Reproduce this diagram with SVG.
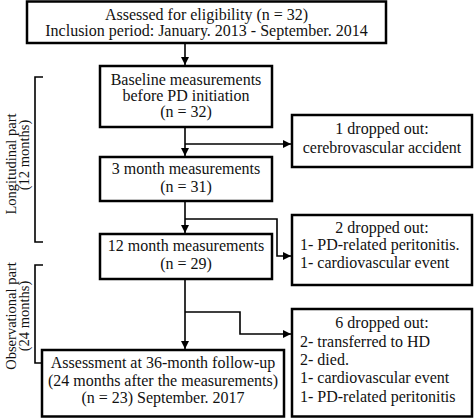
<svg xmlns="http://www.w3.org/2000/svg" width="474" height="418" viewBox="0 0 474 418">
<style>
.box{fill:#fff;stroke:#000;stroke-width:2.5}
.t{font-family:"Liberation Serif","Times New Roman",serif;font-size:16px;fill:#111}
.r{font-size:14.5px}
.c{text-anchor:middle}
.ln{fill:none;stroke:#000;stroke-width:1.6}
</style>
<defs>
<marker id="ah" viewBox="0 0 10 10" refX="10" refY="5" markerWidth="9" markerHeight="8" markerUnits="userSpaceOnUse" orient="auto">
<path d="M0,0 L10,5 L0,10 Z" fill="#000"/>
</marker>
</defs>
<rect width="474" height="418" fill="#fff"/>
<g id="connectors">
<path class="ln" d="M185,43 V65" marker-end="url(#ah)"/>
<path class="ln" d="M185,127 V156" marker-end="url(#ah)"/>
<path class="ln" d="M185,144 H291" marker-end="url(#ah)"/>
<path class="ln" d="M185,201 V233" marker-end="url(#ah)"/>
<path class="ln" d="M185,219 H277 V256 H291" marker-end="url(#ah)"/>
<path class="ln" d="M185,279 V349" marker-end="url(#ah)"/>
<path class="ln" d="M185,312 H240 V334 H291" marker-end="url(#ah)"/>
</g>
<g id="bracket-longitudinal">
<path class="ln" d="M43,77 H35 V242 H43"/>
<text class="t r c" transform="translate(16,164) rotate(-90)">Longitudinal part</text>
<text class="t r c" transform="translate(29,155) rotate(-90)">(12 months)</text>
</g>
<g id="bracket-observational">
<path class="ln" d="M43,265 H35 V363 H43"/>
<text class="t r c" transform="translate(16,316) rotate(-90)">Observational part</text>
<text class="t r c" transform="translate(29,316) rotate(-90)">(24 months)</text>
</g>
<g id="n-eligibility">
<rect class="box" x="27" y="1.5" width="359" height="41.5"/>
<text class="t c" x="206.5" y="19.5">Assessed for eligibility (n = 32)</text>
<text class="t c" x="206.5" y="35.5">Inclusion period: January. 2013 - September. 2014</text>
</g>
<g id="n-baseline">
<rect class="box" x="100" y="66" width="172" height="61"/>
<text class="t c" x="186" y="85">Baseline measurements</text>
<text class="t c" x="186" y="101">before PD initiation</text>
<text class="t c" x="186" y="117">(n = 32)</text>
</g>
<g id="n-drop1">
<rect class="box" x="292" y="115" width="180" height="52"/>
<text class="t c" x="382" y="134">1 dropped out:</text>
<text class="t c" x="382" y="153">cerebrovascular accident</text>
</g>
<g id="n-3month">
<rect class="box" x="100" y="157" width="172" height="44"/>
<text class="t c" x="186" y="174">3 month measurements</text>
<text class="t c" x="186" y="192">(n = 31)</text>
</g>
<g id="n-drop2">
<rect class="box" x="292" y="215" width="180" height="70"/>
<text class="t c" x="382" y="233">2 dropped out:</text>
<text class="t" x="300" y="250">1- PD-related peritonitis.</text>
<text class="t" x="300" y="268">1- cardiovascular event</text>
</g>
<g id="n-12month">
<rect class="box" x="100" y="234" width="172" height="45"/>
<text class="t c" x="186" y="251">12 month measurements</text>
<text class="t c" x="186" y="269">(n = 29)</text>
</g>
<g id="n-drop6">
<rect class="box" x="292" y="309" width="180" height="107.5"/>
<text class="t c" x="382" y="328">6 dropped out:</text>
<text class="t" x="300" y="347">2- transferred to HD</text>
<text class="t" x="300" y="365">2- died.</text>
<text class="t" x="300" y="383">1- cardiovascular event</text>
<text class="t" x="300" y="402">1- PD-related peritonitis</text>
</g>
<g id="n-assessment">
<rect class="box" x="42" y="350" width="242" height="66.5"/>
<text class="t c" x="163" y="368">Assessment at 36-month follow-up</text>
<text class="t c" x="163" y="386">(24 months after the measurements)</text>
<text class="t c" x="163" y="403">(n = 23) September. 2017</text>
</g>
</svg>
